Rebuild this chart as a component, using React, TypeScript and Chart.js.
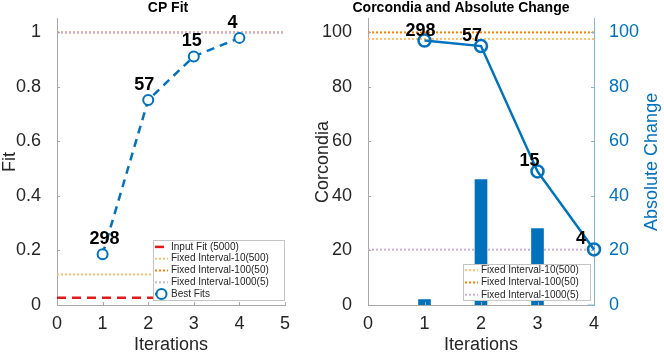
import React, { useEffect, useRef } from 'react';
import { Chart, registerables } from 'chart.js';

Chart.register(...registerables);

// ---------- data ----------
const FIT_ITERATIONS = [1, 2, 3, 4];
const BEST_FIT = [0.186, 0.752, 0.912, 0.98];
const BEST_FIT_LABELS = ['298', '57', '15', '4'];
const INPUT_FIT = 0.027;
const FIXED_10_FIT = 0.112;
const FIXED_100_FIT = 1.0;
const FIXED_1000_FIT = 1.0;
const FIT_X_TICKS = [0, 1, 2, 3, 4, 5];
const FIT_Y_TICKS = [0, 0.2, 0.4, 0.6, 0.8, 1];

const CORC_ITERATIONS = [1, 2, 3, 4];
const CORCONDIA = [2, 46, 28, 0];
const ABS_CHANGE = [97, 95, 49, 20.4];
const ABS_CHANGE_LABELS = ['298', '57', '15', '4'];
const CORC_FIXED_10 = 97.6;
const CORC_FIXED_100 = 100;
const CORC_FIXED_1000 = 20.3;
const CORC_X_TICKS = [0, 1, 2, 3, 4];
const CORC_Y_TICKS = [0, 20, 40, 60, 80, 100];

// ---------- style ----------
const FONT = '"Liberation Sans", Arial, Helvetica, sans-serif';
const AXIS_GRAY = '#a8a8a8';
const TEXT_DARK = '#262626';
const BLUE = '#0072BD';
const AXIS_BLUE = '#80b6dc';
const RED = '#E31A1C';
const LIGHT_ORANGE = '#FDBF6F';
const ORANGE = '#FF7F00';
const LAVENDER = '#CAB2D6';

const hline = (y: number, ticks: number[]) => [
  { x: ticks[0], y },
  { x: ticks[ticks.length - 1], y },
];
const pts = (xs: number[], ys: number[]) => xs.map((x, i) => ({ x, y: ys[i] }));

// ---------- plugins ----------
const plotTitle = {
  id: 'plotTitle',
  afterDraw(chart: any, _a: any, opts: any) {
    const { ctx, chartArea } = chart;
    ctx.save();
    ctx.font = `bold 14px ${FONT}`;
    ctx.fillStyle = '#000';
    ctx.textAlign = 'center';
    ctx.textBaseline = 'middle';
    ctx.fillText(opts.text, (chartArea.left + chartArea.right) / 2 + opts.dx, opts.y);
    ctx.restore();
  },
};

const inTicks = {
  id: 'inTicks',
  afterDraw(chart: any) {
    const { ctx, chartArea } = chart;
    ctx.save();
    ctx.lineWidth = 1;
    Object.values(chart.scales).forEach((s: any) => {
      ctx.strokeStyle = s.options.border.color;
      s.ticks.forEach((t: any) => {
        const p = Math.round(s.getPixelForValue(t.value)) + 0.5;
        ctx.beginPath();
        if (s.isHorizontal()) {
          ctx.moveTo(p, chartArea.bottom);
          ctx.lineTo(p, chartArea.bottom - 3);
        } else if (s.position === 'left') {
          ctx.moveTo(chartArea.left, p);
          ctx.lineTo(chartArea.left + 3, p);
        } else {
          ctx.moveTo(chartArea.right, p);
          ctx.lineTo(chartArea.right - 3, p);
        }
        ctx.stroke();
      });
    });
    ctx.restore();
  },
};

const pointLabels = {
  id: 'pointLabels',
  afterDatasetsDraw(chart: any, _a: any, opts: any) {
    const { ctx } = chart;
    const meta = chart.getDatasetMeta(opts.dataset);
    ctx.save();
    ctx.font = `bold 18px ${FONT}`;
    ctx.fillStyle = '#000';
    ctx.textAlign = 'center';
    ctx.textBaseline = 'middle';
    meta.data.forEach((pt: any, i: number) => {
      ctx.fillText(opts.labels[i], pt.x + opts.dx[i], pt.y + opts.dy);
    });
    ctx.restore();
  },
};

const boxLegend = {
  id: 'boxLegend',
  afterDatasetsDraw(chart: any, _a: any, opts: any) {
    const { ctx, chartArea } = chart;
    const items: number[] = opts.items;
    const w = opts.width;
    const h = items.length * opts.rowH + opts.padY * 2;
    const x = Math.round(chartArea.right - opts.right - w);
    const y = Math.round(chartArea.bottom - opts.bottom - h);
    ctx.save();
    ctx.fillStyle = '#fff';
    ctx.fillRect(x, y, w, h);
    ctx.strokeStyle = '#c4c4c4';
    ctx.lineWidth = 1;
    ctx.strokeRect(x + 0.5, y + 0.5, w - 1, h - 1);
    ctx.font = `10px ${FONT}`;
    ctx.textBaseline = 'middle';
    ctx.textAlign = 'left';
    items.forEach((di, r) => {
      const ds: any = chart.data.datasets[di];
      const cy = y + opts.padY + opts.rowH * (r + 0.5);
      ctx.setLineDash(ds.borderDash || []);
      ctx.strokeStyle = ds.borderColor;
      ctx.lineWidth = ds.borderWidth;
      ctx.beginPath();
      ctx.moveTo(x + opts.sampleX0, cy);
      ctx.lineTo(x + opts.sampleX1, cy);
      ctx.stroke();
      ctx.setLineDash([]);
      if (ds.pointRadius) {
        ctx.beginPath();
        ctx.arc(x + (opts.sampleX0 + opts.sampleX1) / 2, cy, ds.pointRadius, 0, Math.PI * 2);
        ctx.fillStyle = '#fff';
        ctx.fill();
        ctx.lineWidth = ds.pointBorderWidth;
        ctx.strokeStyle = ds.borderColor;
        ctx.stroke();
      }
      ctx.fillStyle = TEXT_DARK;
      ctx.fillText(ds.label, x + opts.textX, cy);
    });
    ctx.restore();
  },
};

const rightTitle = {
  id: 'rightTitle',
  afterDraw(chart: any, _a: any, opts: any) {
    const { ctx, chartArea } = chart;
    const s = chart.scales[opts.scale];
    ctx.save();
    ctx.translate(s.right - opts.inset, (chartArea.top + chartArea.bottom) / 2);
    ctx.rotate(-Math.PI / 2);
    ctx.font = `18px ${FONT}`;
    ctx.fillStyle = opts.color;
    ctx.textAlign = 'center';
    ctx.textBaseline = 'middle';
    ctx.fillText(opts.text, 0, 0);
    ctx.restore();
  },
};

// ---------- helpers ----------
const tickFont = { family: FONT, size: 18 };
const titleFont = { family: FONT, size: 18, lineHeight: 1.1 };
const xTitleFont = { family: FONT, size: 18, lineHeight: 0.85 };

function xScale(ticks: number[]) {
  return {
    type: 'linear',
    min: ticks[0],
    max: ticks[ticks.length - 1],
    offset: false,
    grid: { display: false },
    border: { display: true, color: AXIS_GRAY, width: 1 },
    ticks: { font: tickFont, color: TEXT_DARK, padding: 0, maxRotation: 0, autoSkip: false, callback: (v: any) => `${v}` },
    afterBuildTicks: (s: any) => { s.ticks = ticks.map((v) => ({ value: v })); },
    afterFit: (s: any) => { s.height = 48; },
    title: { display: true, text: 'Iterations', font: xTitleFont, color: TEXT_DARK, padding: 0 },
  };
}

function hlineDs(label: string, y: number, ticks: number[], color: string, order: number) {
  return {
    type: 'line',
    label,
    data: hline(y, ticks),
    borderColor: color,
    borderWidth: 2,
    borderDash: [2, 2],
    pointRadius: 0,
    fill: false,
    order,
    yAxisID: 'y',
  };
}

function FitChart() {
  const ref = useRef<HTMLCanvasElement>(null);
  useEffect(() => {
    const chart = new Chart(ref.current as HTMLCanvasElement, {
      type: 'line',
      data: {
        datasets: [
          {
            type: 'line',
            label: 'Input Fit (5000)',
            data: hline(INPUT_FIT, FIT_X_TICKS),
            borderColor: RED,
            borderWidth: 2.5,
            borderDash: [9, 6],
            pointRadius: 0,
            fill: false,
            order: 5,
          },
          hlineDs('Fixed Interval-10(500)', FIXED_10_FIT, FIT_X_TICKS, LIGHT_ORANGE, 4),
          hlineDs('Fixed Interval-100(50)', FIXED_100_FIT, FIT_X_TICKS, ORANGE, 3),
          hlineDs('Fixed Interval-1000(5)', FIXED_1000_FIT, FIT_X_TICKS, LAVENDER, 2),
          {
            type: 'line',
            label: 'Best Fits',
            data: pts(FIT_ITERATIONS, BEST_FIT),
            borderColor: BLUE,
            borderWidth: 2.5,
            borderDash: [8, 6],
            pointRadius: 5,
            pointBorderWidth: 2,
            pointBackgroundColor: '#fff',
            pointBorderColor: BLUE,
            fill: false,
            clip: false,
            order: 0,
          },
        ] as any,
      },
      options: {
        animation: false,
        responsive: false,
        layout: { padding: { top: 17, right: 45, left: 0, bottom: 0 } },
        scales: {
          x: xScale(FIT_X_TICKS) as any,
          y: {
            type: 'linear',
            min: 0,
            max: 1.05,
            grid: { display: false },
            border: { display: true, color: AXIS_GRAY, width: 1 },
            ticks: { font: tickFont, color: TEXT_DARK, padding: 8, callback: (v: any) => `${v}` },
            afterBuildTicks: (s: any) => { s.ticks = FIT_Y_TICKS.map((v) => ({ value: v })); },
            afterFit: (s: any) => { s.width = 57; },
            title: { display: true, text: 'Fit', font: titleFont, color: TEXT_DARK, padding: 0 },
          },
        },
        plugins: {
          legend: { display: false },
          tooltip: { enabled: false },
          plotTitle: { text: 'CP Fit', dx: -3, y: 8 },
          pointLabels: { dataset: 4, labels: BEST_FIT_LABELS, dx: [2, -4, -2, -7], dy: -15 },
          boxLegend: { items: [0, 1, 2, 3, 4], width: 132, rowH: 11.8, padY: 1, right: 0, bottom: 4, sampleX0: 2, sampleX1: 15, textX: 18 },
        } as any,
      },
      plugins: [plotTitle, inTicks, pointLabels, boxLegend],
    });
    return () => chart.destroy();
  }, []);
  return <canvas ref={ref} width={330} height={353} style={{ position: 'absolute', left: 0, top: 0 }} />;
}

function CorcChart() {
  const ref = useRef<HTMLCanvasElement>(null);
  useEffect(() => {
    const chart = new Chart(ref.current as HTMLCanvasElement, {
      type: 'line',
      data: {
        datasets: [
          hlineDs('Fixed Interval-10(500)', CORC_FIXED_10, CORC_X_TICKS, LIGHT_ORANGE, 4),
          hlineDs('Fixed Interval-100(50)', CORC_FIXED_100, CORC_X_TICKS, ORANGE, 3),
          hlineDs('Fixed Interval-1000(5)', CORC_FIXED_1000, CORC_X_TICKS, LAVENDER, 2),
          {
            type: 'bar',
            label: 'Corcondia',
            data: pts(CORC_ITERATIONS, CORCONDIA),
            backgroundColor: BLUE,
            borderWidth: 0,
            barThickness: 12,
            yAxisID: 'y',
            order: 1,
          },
          {
            type: 'line',
            label: 'Absolute Change',
            data: pts(CORC_ITERATIONS, ABS_CHANGE),
            borderColor: BLUE,
            borderWidth: 2.5,
            pointRadius: 6,
            pointBorderWidth: 2.5,
            pointBackgroundColor: 'rgba(255,255,255,0)',
            pointBorderColor: BLUE,
            fill: false,
            clip: false,
            yAxisID: 'y2',
            order: 0,
          },
        ] as any,
      },
      options: {
        animation: false,
        responsive: false,
        layout: { padding: { top: 17, right: 0, left: 0, bottom: 0 } },
        scales: {
          x: xScale(CORC_X_TICKS) as any,
          y: {
            type: 'linear',
            position: 'left',
            min: 0,
            max: 105,
            grid: { display: false },
            border: { display: true, color: AXIS_GRAY, width: 1 },
            ticks: { font: tickFont, color: TEXT_DARK, padding: 8, callback: (v: any) => `${v}` },
            afterBuildTicks: (s: any) => { s.ticks = CORC_Y_TICKS.map((v) => ({ value: v })); },
            afterFit: (s: any) => { s.width = 78; },
            title: { display: true, text: 'Corcondia', font: titleFont, color: TEXT_DARK, padding: { top: 23 } },
          },
          y2: {
            type: 'linear',
            position: 'right',
            min: 0,
            max: 105,
            grid: { display: false },
            border: { display: true, color: AXIS_BLUE, width: 1 },
            ticks: { font: tickFont, color: BLUE, padding: 7, callback: (v: any) => `${v}` },
            afterBuildTicks: (s: any) => { s.ticks = CORC_Y_TICKS.map((v) => ({ value: v })); },
            afterFit: (s: any) => { s.width = 70; },
          },
        },
        plugins: {
          legend: { display: false },
          tooltip: { enabled: false },
          plotTitle: { text: 'Corcondia and Absolute Change', dx: -20, y: 8 },
          pointLabels: { dataset: 4, labels: ABS_CHANGE_LABELS, dx: [-4, -9, -8, -13], dy: -10 },
          boxLegend: { items: [0, 1, 2], width: 128, rowH: 12.3, padY: 0, right: 3, bottom: 4, sampleX0: 2, sampleX1: 15, textX: 18 },
          rightTitle: { scale: 'y2', text: 'Absolute Change', color: BLUE, inset: 12 },
        } as any,
      },
      plugins: [plotTitle, inTicks, pointLabels, boxLegend, rightTitle],
    });
    return () => chart.destroy();
  }, []);
  return <canvas ref={ref} width={374} height={353} style={{ position: 'absolute', left: 290, top: 0 }} />;
}

export default function App() {
  useEffect(() => {
    document.body.style.margin = '0';
    document.body.style.background = '#fff';
  }, []);
  return (
    <div style={{ position: 'relative', width: 664, height: 353, background: '#fff', overflow: 'hidden' }}>
      <FitChart />
      <CorcChart />
    </div>
  );
}
